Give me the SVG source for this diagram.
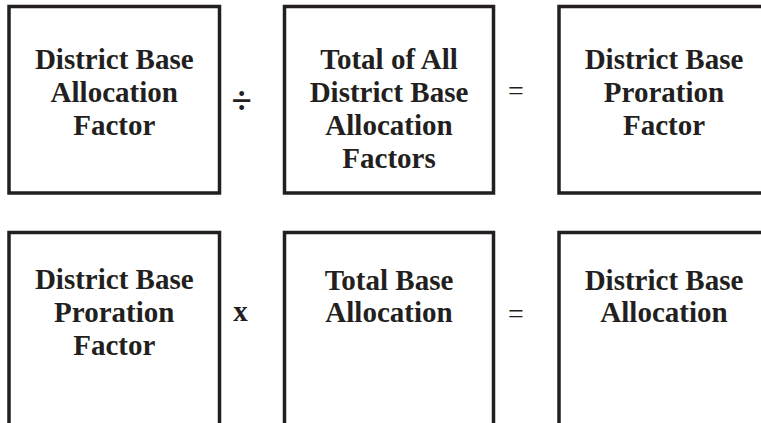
<svg xmlns="http://www.w3.org/2000/svg" width="761" height="423" viewBox="0 0 761 423">
<style>
.box{fill:#fff;stroke:#231f20;stroke-width:3.5}
.t{font-family:"Liberation Serif","Times New Roman",serif;font-weight:bold;font-size:29px;fill:#231f20;text-anchor:middle}
.op{font-family:"Liberation Serif","Times New Roman",serif;font-size:28px;fill:#231f20;text-anchor:middle}
.opb{font-family:"Liberation Serif","Times New Roman",serif;font-weight:bold;font-size:29px;fill:#231f20;text-anchor:middle}
</style>
<rect width="761" height="423" fill="#fff"/>
<g id="n1">
<rect class="box" x="9" y="6.5" width="210.5" height="186.5"/>
<text class="t" x="114.25" y="69">District Base</text>
<text class="t" x="114.25" y="102">Allocation</text>
<text class="t" x="114.25" y="135">Factor</text>
</g>
<g id="n2">
<rect class="box" x="284.5" y="6.5" width="209" height="186.5"/>
<text class="t" x="389" y="68.5">Total of All</text>
<text class="t" x="389" y="101.5">District Base</text>
<text class="t" x="389" y="134.5">Allocation</text>
<text class="t" x="389" y="167.5">Factors</text>
</g>
<g id="n3">
<rect class="box" x="559" y="6.5" width="210" height="186.5"/>
<text class="t" x="664" y="69">District Base</text>
<text class="t" x="664" y="102">Proration</text>
<text class="t" x="664" y="135">Factor</text>
</g>
<g id="n4">
<rect class="box" x="9" y="232.5" width="210.5" height="210"/>
<text class="t" x="114.25" y="289">District Base</text>
<text class="t" x="114.25" y="322">Proration</text>
<text class="t" x="114.25" y="355">Factor</text>
</g>
<g id="n5">
<rect class="box" x="284.5" y="232.5" width="209" height="210"/>
<text class="t" x="389" y="289.5">Total Base</text>
<text class="t" x="389" y="322">Allocation</text>
</g>
<g id="n6">
<rect class="box" x="559" y="232.5" width="210" height="210"/>
<text class="t" x="664" y="289.5">District Base</text>
<text class="t" x="664" y="322">Allocation</text>
</g>
<g id="connectors">
<text class="opb" x="241.7" y="112.5" style="font-size:37px">÷</text>
<text class="op" x="516" y="99.5">=</text>
<text class="opb" x="240.5" y="321">x</text>
<text class="op" x="516" y="322.5">=</text>
</g>
</svg>
